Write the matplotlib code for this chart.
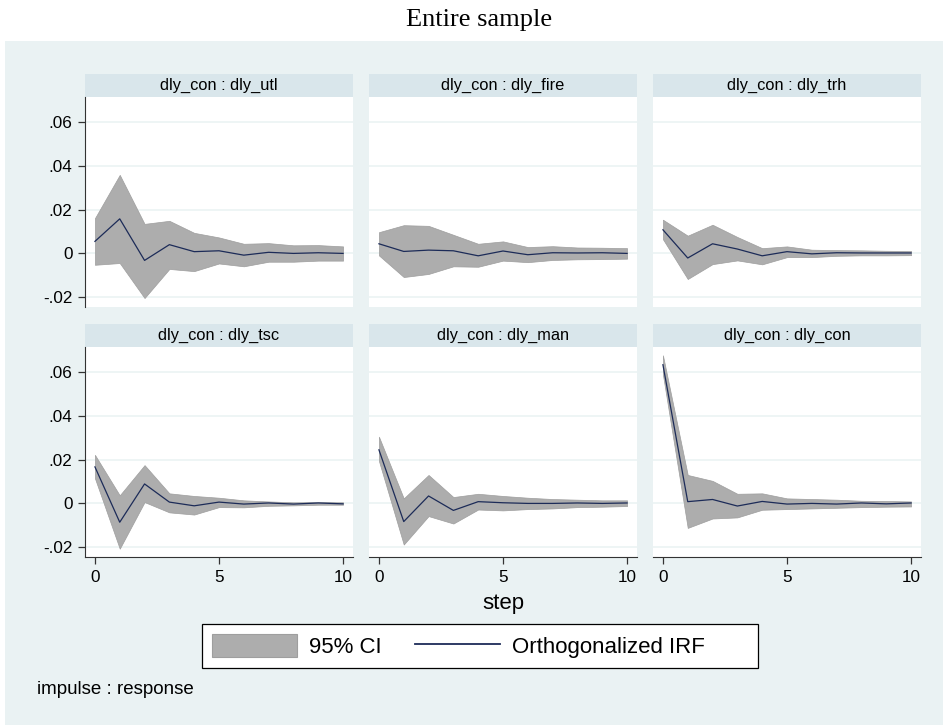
import matplotlib.pyplot as plt
from matplotlib.patches import Rectangle
from matplotlib.lines import Line2D
from matplotlib.patches import Patch

plt.rcParams['font.family'] = ['Liberation Sans', 'DejaVu Sans']

steps = list(range(11))

titles = ['dly_con : dly_utl', 'dly_con : dly_fire', 'dly_con : dly_trh',
          'dly_con : dly_tsc', 'dly_con : dly_man', 'dly_con : dly_con']

# orthogonalized IRF
irf_utl = [0.0055, 0.0158, -0.0032, 0.0040, 0.0008, 0.0012, -0.0008, 0.0005, 0.0000, 0.0003, 0.0000]
irf_fire = [0.0044, 0.0009, 0.0015, 0.0012, -0.0011, 0.0011, -0.0006, 0.0003, 0.0002, 0.0003, 0.0000]
irf_trh = [0.0108, -0.0021, 0.0044, 0.0020, -0.0011, 0.0008, -0.0002, 0.0003, 0.0002, 0.0002, 0.0002]
irf_tsc = [0.0167, -0.0086, 0.0089, 0.0006, -0.0011, 0.0006, -0.0003, 0.0002, -0.0003, 0.0002, -0.0002]
irf_man = [0.0245, -0.0083, 0.0034, -0.0032, 0.0008, 0.0003, 0.0000, 0.0000, 0.0002, 0.0000, 0.0002]
irf_con = [0.0634, 0.0008, 0.0018, -0.0012, 0.0009, -0.0003, 0.0000, -0.0003, 0.0002, -0.0002, 0.0002]

# 95% CI upper bounds
up_utl = [0.0161, 0.0359, 0.0135, 0.0149, 0.0094, 0.0073, 0.0044, 0.0047, 0.0037, 0.0038, 0.0032]
up_fire = [0.0097, 0.0129, 0.0126, 0.0085, 0.0044, 0.0055, 0.0029, 0.0033, 0.0027, 0.0026, 0.0024]
up_trh = [0.0154, 0.0081, 0.0131, 0.0075, 0.0024, 0.0032, 0.0017, 0.0015, 0.0014, 0.0012, 0.0011]
up_tsc = [0.0222, 0.0037, 0.0175, 0.0046, 0.0034, 0.0026, 0.0014, 0.0009, 0.0005, 0.0006, 0.0005]
up_man = [0.0305, 0.0023, 0.0130, 0.0029, 0.0044, 0.0034, 0.0026, 0.0020, 0.0017, 0.0014, 0.0014]
up_con = [0.0677, 0.0130, 0.0103, 0.0044, 0.0046, 0.0023, 0.0020, 0.0017, 0.0012, 0.0011, 0.0009]

# 95% CI lower bounds
lo_utl = [-0.0052, -0.0044, -0.0204, -0.0071, -0.0081, -0.0046, -0.0059, -0.0038, -0.0038, -0.0033, -0.0033]
lo_fire = [-0.0009, -0.0108, -0.0094, -0.0059, -0.0061, -0.0033, -0.0040, -0.0030, -0.0027, -0.0026, -0.0024]
lo_trh = [0.0065, -0.0117, -0.0049, -0.0032, -0.0050, -0.0017, -0.0017, -0.0011, -0.0009, -0.0009, -0.0008]
lo_tsc = [0.0115, -0.0207, 0.0006, -0.0041, -0.0051, -0.0017, -0.0018, -0.0011, -0.0009, -0.0006, -0.0006]
lo_man = [0.0194, -0.0188, -0.0058, -0.0092, -0.0028, -0.0032, -0.0026, -0.0023, -0.0017, -0.0015, -0.0012]
lo_con = [0.0589, -0.0112, -0.0069, -0.0064, -0.0029, -0.0026, -0.0023, -0.0020, -0.0017, -0.0015, -0.0014]

irfs = [irf_utl, irf_fire, irf_trh, irf_tsc, irf_man, irf_con]
ups = [up_utl, up_fire, up_trh, up_tsc, up_man, up_con]
los = [lo_utl, lo_fire, lo_trh, lo_tsc, lo_man, lo_con]

yticks = [-0.02, 0, 0.02, 0.04, 0.06]
ylabels = ['-.02', '0', '.02', '.04', '.06']

W, H = 943, 725
bg = '#EAF2F3'
strip = '#D9E6EB'
navy = '#1c2b58'
ci_col = '#ADADAD'

fig = plt.figure(figsize=(W / 100, H / 100), dpi=100)
fig.patches.append(Rectangle((5 / W, 0), 1 - 5 / W, 1 - 41 / H, transform=fig.transFigure,
                             facecolor=bg, edgecolor='none', zorder=-10))

fig.text(479 / W, 1 - 20 / H, 'Entire sample', family=['Liberation Serif', 'DejaVu Serif'],
         fontsize=19, ha='center', va='center')

lefts = [85, 369, 653]
bottoms = [307, 557]
pw, ph = 268, 210
sh = 23

for i in range(6):
    r, c = divmod(i, 3)
    ax = fig.add_axes([lefts[c] / W, 1 - bottoms[r] / H, pw / W, ph / H])
    ax.set_facecolor('white')
    ax.fill_between(steps, los[i], ups[i], color=ci_col, edgecolor='#9e9e9e', linewidth=0.5, zorder=2)
    ax.plot(steps, irfs[i], color=navy, linewidth=0.9, zorder=3)
    ax.set_xlim(-0.4, 10.4)
    ax.set_ylim(-0.0245, 0.0715)
    ax.set_yticks(yticks)
    ax.set_xticks([0, 5, 10])
    ax.grid(axis='y', color=bg, linewidth=1.1, zorder=1)
    for s in ax.spines.values():
        s.set_visible(False)
    ax.tick_params(axis='both', labelsize=12.3, color='#333333', length=5, width=0.9, pad=4)
    if c == 0:
        ax.spines['left'].set_visible(True)
        ax.spines['left'].set_color('#333333')
        ax.set_yticklabels(ylabels)
    else:
        ax.tick_params(axis='y', left=False, labelleft=False)
    if r == 1:
        ax.spines['bottom'].set_visible(True)
        ax.spines['bottom'].set_color('#333333')
    else:
        ax.tick_params(axis='x', bottom=False, labelbottom=False)
    ax.add_patch(Rectangle((0, 1), 1, sh / ph, transform=ax.transAxes, facecolor=strip,
                           edgecolor='none', clip_on=False))
    ax.text(0.5, 1 + sh / ph / 2, titles[i], transform=ax.transAxes, ha='center', va='center',
            fontsize=11.8)

fig.text(503 / W, 1 - 604 / H, 'step', fontsize=16, ha='center', va='center')

handles = [Patch(facecolor=ci_col, edgecolor='#9e9e9e', linewidth=0.8),
           Line2D([0], [0], color=navy, linewidth=1.3)]
leg = fig.legend(handles, ['95% CI', 'Orthogonalized IRF       '], loc='center',
                 bbox_to_anchor=(480 / W, 1 - 646 / H), ncol=2, fontsize=16, frameon=True,
                 fancybox=False, edgecolor='black', facecolor='white', framealpha=1,
                 handlelength=3.8, handleheight=1.25,
                 columnspacing=1.5, borderpad=0.45, handletextpad=0.55)
leg.get_frame().set_linewidth(0.9)

fig.text(37 / W, 1 - 690 / H, 'impulse : response', fontsize=13.5, ha='left', va='center')

fig.savefig('out.png', dpi=100)
